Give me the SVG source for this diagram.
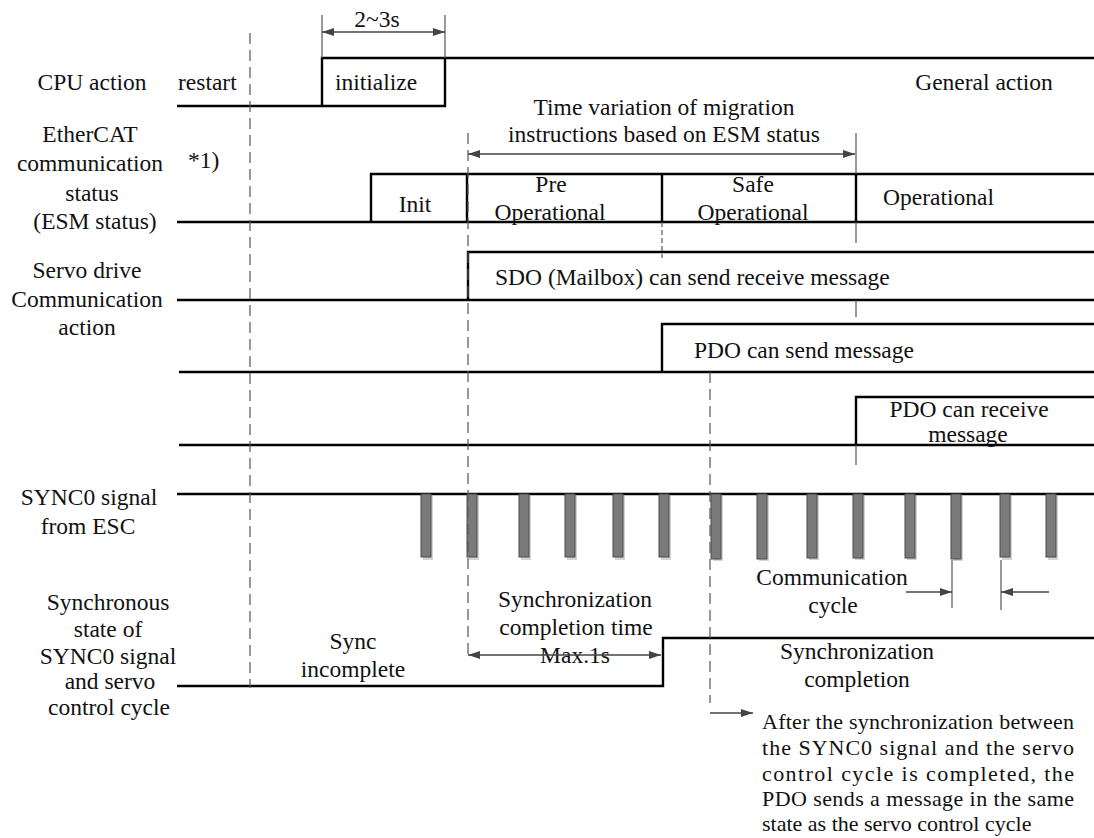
<svg xmlns="http://www.w3.org/2000/svg" width="1094" height="838" viewBox="0 0 1094 838">
  <style>
    text { font-family: 'Liberation Serif', 'Times New Roman', 'DejaVu Serif', serif; fill: #111; }
    .lbl { font-size: 23.5px; }
    .mid { text-anchor: middle; }
    .para { font-size: 22px; }
    .wave { fill: none; stroke: #000; stroke-width: 2.4; stroke-linejoin: miter; }
    .dash { fill: none; stroke: #555; stroke-width: 1.2; stroke-dasharray: 11 6; }
    .fine { fill: none; stroke: #555; stroke-width: 1.2; stroke-dasharray: 5 3; }
    .tick { fill: none; stroke: #555; stroke-width: 1.2; }
    .dim { fill: none; stroke: #444; stroke-width: 1.4; }
    .pulse { fill: #7a7a7a; stroke: #4a4a4a; stroke-width: 1; }
    .shadow { fill: #d4d4d4; }
  </style>
  <defs>
    <marker id="ah" viewBox="0 0 12 8" refX="12" refY="4" markerWidth="12" markerHeight="8" markerUnits="userSpaceOnUse" orient="auto-start-reverse">
      <path d="M0,0 L12,4 L0,8 Z" fill="#444"/>
    </marker>
  </defs>

  <rect width="1094" height="838" fill="#fff"/>

  <!-- row labels -->
  <g id="labels" font-family="Liberation Serif, serif">
    <text class="lbl mid" x="92" y="90">CPU action</text>
    <text class="lbl mid" x="90" y="142">EtherCAT</text>
    <text class="lbl mid" x="90" y="171">communication</text>
    <text class="lbl mid" x="92" y="201">status</text>
    <text class="lbl mid" x="95" y="229">(ESM status)</text>
    <text class="lbl" x="188" y="168">*1)</text>
    <text class="lbl mid" x="87" y="278">Servo drive</text>
    <text class="lbl mid" x="87" y="307">Communication</text>
    <text class="lbl mid" x="87" y="335">action</text>
    <text class="lbl mid" x="89" y="505">SYNC0 signal</text>
    <text class="lbl mid" x="88" y="534">from ESC</text>
    <text class="lbl mid" x="108" y="610">Synchronous</text>
    <text class="lbl mid" x="108" y="637">state of</text>
    <text class="lbl mid" x="108" y="664">SYNC0 signal</text>
    <text class="lbl mid" x="110" y="689">and servo</text>
    <text class="lbl mid" x="109" y="715">control cycle</text>
  </g>

  <!-- CPU action waveform -->
  <g id="cpu">
    <path class="wave" d="M177,106 H445 V58 M322,106 V58 H1094"/>
    <text class="lbl" x="178" y="90">restart</text>
    <text class="lbl" x="335" y="90">initialize</text>
    <text class="lbl mid" x="984" y="90">General action</text>
  </g>

  <!-- ESM status waveform -->
  <g id="esm">
    <path class="wave" d="M177,222 H1094 M371,222 V174 H1094 M467,174 V222 M662,174 V222 M856,174 V222"/>
    <text class="lbl mid" x="415" y="212">Init</text>
    <text class="lbl mid" x="551" y="192">Pre</text>
    <text class="lbl mid" x="550" y="220">Operational</text>
    <text class="lbl mid" x="753" y="192">Safe</text>
    <text class="lbl mid" x="753" y="220">Operational</text>
    <text class="lbl" x="883" y="205">Operational</text>
  </g>

  <!-- SDO mailbox -->
  <g id="sdo">
    <path class="wave" d="M177,300 H1094 M468,300 V252 H1094"/>
    <text class="lbl" x="495" y="285">SDO (Mailbox) can send receive message</text>
  </g>

  <!-- PDO send -->
  <g id="pdo-send">
    <path class="wave" d="M179,372 H1094 M662,372 V324 H1094"/>
    <text class="lbl" x="694" y="358">PDO can send message</text>
  </g>

  <!-- PDO receive -->
  <g id="pdo-receive">
    <path class="wave" d="M179,445 H1094 M856,445 V397 H1094"/>
    <text class="lbl mid" x="969" y="417">PDO can receive</text>
    <text class="lbl mid" x="968" y="442">message</text>
  </g>

  <!-- SYNC0 pulses -->
  <g id="sync0">
    <path class="wave" d="M177,494 H1094"/>
    <g id="pulse-shadows">
      <rect class="shadow" x="423" y="496" width="10" height="64"/>
      <rect class="shadow" x="469" y="496" width="10" height="64"/>
      <rect class="shadow" x="521" y="496" width="10" height="64"/>
      <rect class="shadow" x="567" y="496" width="10" height="64"/>
      <rect class="shadow" x="615" y="496" width="10" height="64"/>
      <rect class="shadow" x="661" y="496" width="10" height="64"/>
      <rect class="shadow" x="713" y="496" width="10" height="65"/>
      <rect class="shadow" x="759" y="496" width="10" height="65"/>
      <rect class="shadow" x="809" y="496" width="10" height="64"/>
      <rect class="shadow" x="855" y="496" width="10" height="64"/>
      <rect class="shadow" x="907" y="496" width="10" height="64"/>
      <rect class="shadow" x="953" y="496" width="10" height="65"/>
      <rect class="shadow" x="1002" y="496" width="10" height="64"/>
      <rect class="shadow" x="1048" y="496" width="10" height="64"/>
    </g>
    <rect class="pulse" x="421" y="494" width="10" height="63"/>
    <rect class="pulse" x="467" y="494" width="10" height="63"/>
    <rect class="pulse" x="519" y="494" width="10" height="63"/>
    <rect class="pulse" x="565" y="494" width="10" height="63"/>
    <rect class="pulse" x="613" y="494" width="10" height="63"/>
    <rect class="pulse" x="659" y="494" width="10" height="63"/>
    <rect class="pulse" x="711" y="494" width="10" height="65"/>
    <rect class="pulse" x="757" y="494" width="10" height="65"/>
    <rect class="pulse" x="807" y="494" width="10" height="64"/>
    <rect class="pulse" x="853" y="494" width="10" height="64"/>
    <rect class="pulse" x="905" y="494" width="10" height="64"/>
    <rect class="pulse" x="951" y="494" width="10" height="65"/>
    <rect class="pulse" x="1000" y="494" width="10" height="63"/>
    <rect class="pulse" x="1046" y="494" width="10" height="63"/>
  </g>

  <!-- synchronisation state waveform -->
  <g id="sync-state">
    <path class="wave" d="M177,686 H663 V638 H1094"/>
    <text class="lbl mid" x="353" y="649">Sync</text>
    <text class="lbl mid" x="353" y="677">incomplete</text>
    <text class="lbl mid" x="575" y="607">Synchronization</text>
    <text class="lbl mid" x="576" y="635">completion time</text>
    <text class="lbl mid" x="575" y="663">Max.1s</text>
    <text class="lbl mid" x="857" y="659">Synchronization</text>
    <text class="lbl mid" x="857" y="687">completion</text>
    <text class="lbl mid" x="832" y="585">Communication</text>
    <text class="lbl mid" x="833" y="613">cycle</text>
  </g>

  <!-- guide lines, dimension arrows -->
  <g id="connectors">
    <line class="dash" x1="250" y1="33" x2="250" y2="688"/>
    <line class="dash" x1="468" y1="133" x2="468" y2="656"/>
    <line class="fine" x1="662" y1="222" x2="662" y2="258"/>
    <line class="dash" x1="710" y1="372" x2="710" y2="703"/>

    <line class="tick" x1="322" y1="15" x2="322" y2="58"/>
    <line class="tick" x1="445" y1="15" x2="445" y2="58"/>
    <line class="dim" x1="322" y1="32" x2="445" y2="32" marker-start="url(#ah)" marker-end="url(#ah)"/>
    <text class="lbl mid" x="377" y="27">2~3s</text>

    <line class="tick" x1="856" y1="133" x2="856" y2="174"/>
    <line class="tick" x1="856" y1="222" x2="856" y2="243"/>
    <line class="tick" x1="856" y1="300" x2="856" y2="317"/>
    <line class="tick" x1="856" y1="445" x2="856" y2="465"/>
    <line class="dim" x1="468" y1="154" x2="855" y2="154" marker-start="url(#ah)" marker-end="url(#ah)"/>
    <text class="lbl mid" x="664" y="115">Time variation of migration</text>
    <text class="lbl mid" x="664" y="142">instructions based on ESM status</text>

    <line class="dim" x1="468" y1="655" x2="661" y2="655" marker-start="url(#ah)" marker-end="url(#ah)"/>

    <line class="tick" x1="952" y1="560" x2="952" y2="608"/>
    <line class="tick" x1="1001" y1="560" x2="1001" y2="610"/>
    <line class="dim" x1="906" y1="592" x2="952" y2="592" marker-end="url(#ah)"/>
    <line class="dim" x1="1049" y1="592" x2="1001" y2="592" marker-end="url(#ah)"/>

    <line class="dim" x1="710" y1="713" x2="753" y2="713" marker-end="url(#ah)"/>
  </g>

  <!-- explanatory note -->
  <g id="note">
    <text class="para" x="762" y="729" textLength="312" lengthAdjust="spacing">After the synchronization between</text>
    <text class="para" x="762" y="755" textLength="312" lengthAdjust="spacing">the SYNC0 signal and the servo</text>
    <text class="para" x="762" y="781" textLength="312" lengthAdjust="spacing">control cycle is completed, the</text>
    <text class="para" x="762" y="806" textLength="312" lengthAdjust="spacing">PDO sends a message in the same</text>
    <text class="para" x="762" y="831">state as the servo control cycle</text>
  </g>
</svg>
